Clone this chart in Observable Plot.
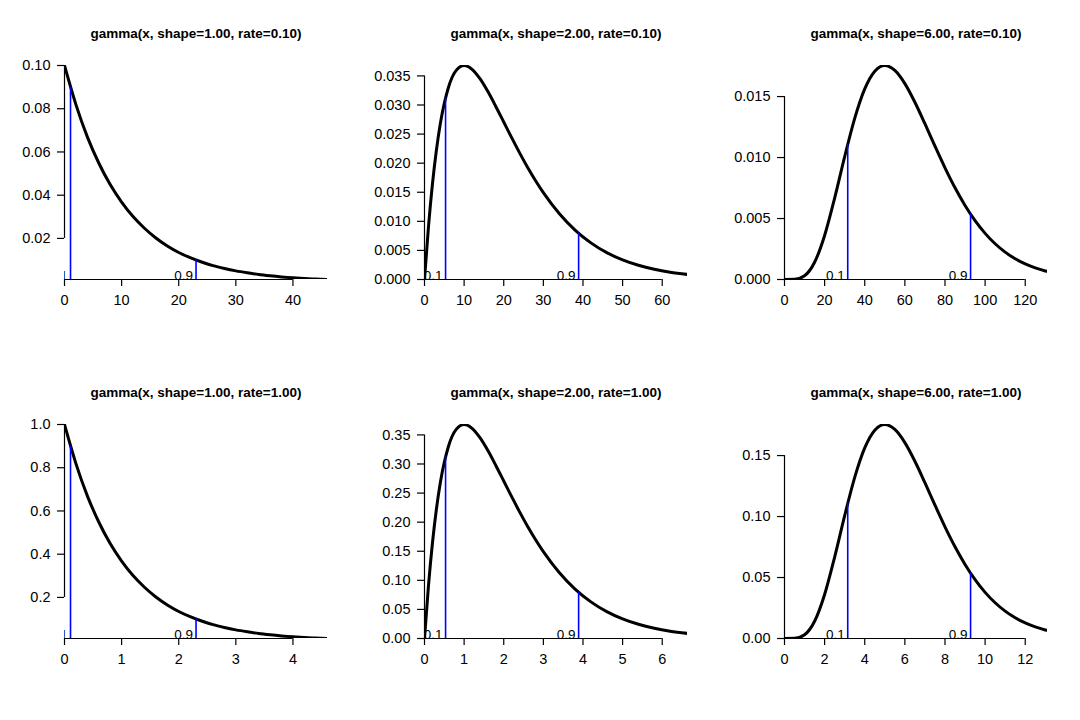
<!DOCTYPE html>
<html>
<head>
<meta charset="utf-8">
<script src="https://cdn.jsdelivr.net/npm/d3@7"></script>
<script src="https://cdn.jsdelivr.net/npm/@observablehq/plot@0.6"></script>
<style>
  body { margin: 0; background: #fff; }
  #grid { display: grid; grid-template-columns: 360px 360px 360px; grid-template-rows: 360px 360px; width: 1080px; height: 720px; }
  #grid svg { display: block; }
</style>
</head>
<body>
<div id="grid"></div>
<script>
// ---- Panel titles ----
const titles = [
  "gamma(x, shape=1.00, rate=0.10)",
  "gamma(x, shape=2.00, rate=0.10)",
  "gamma(x, shape=6.00, rate=0.10)",
  "gamma(x, shape=1.00, rate=1.00)",
  "gamma(x, shape=2.00, rate=1.00)",
  "gamma(x, shape=6.00, rate=1.00)"
];

// ---- Density curves ----
const xShape1Rate01 = [0,2,4,6,8,10,12,14,16,18,20,22,24,26,28,30,32,34,36,38,40,42,44,46.05];
const yShape1Rate01 = [0.1,0.0819,0.0670,0.0549,0.0449,0.0368,0.0301,0.0247,0.0202,0.0165,0.0135,0.0111,0.0091,0.0074,0.0061,0.0050,0.0041,0.0033,0.0027,0.0022,0.0018,0.0015,0.0012,0.0010];

const xShape2Rate01 = [0,1,2,3,4,6,8,10,12,14,16,18,20,22,24,26,28,30,34,38,42,46,50,54,58,62,66.38];
const yShape2Rate01 = [0,0.00905,0.01637,0.02222,0.02681,0.03293,0.03595,0.03679,0.03614,0.03452,0.03230,0.02975,0.02707,0.02438,0.02177,0.01931,0.01703,0.01494,0.01135,0.00850,0.00630,0.00462,0.00337,0.00244,0.00176,0.00126,0.00087];

const xShape6Rate01 = [0,5,10,15,20,25,30,35,40,45,50,55,60,65,70,75,80,85,90,95,100,105,110,115,120,125,130,131.1];
const yShape6Rate01 = [0,0.0000158,0.000307,0.001412,0.003609,0.006680,0.010082,0.013217,0.015629,0.017083,0.017547,0.017140,0.016062,0.014536,0.012772,0.010937,0.009160,0.007523,0.006073,0.004827,0.003783,0.002929,0.002242,0.001698,0.001274,0.000948,0.000699,0.000653];

const xShape1Rate1 = [0,0.2,0.4,0.6,0.8,1.0,1.2,1.4,1.6,1.8,2.0,2.2,2.4,2.6,2.8,3.0,3.2,3.4,3.6,3.8,4.0,4.2,4.4,4.605];
const yShape1Rate1 = [1.0,0.819,0.670,0.549,0.449,0.368,0.301,0.247,0.202,0.165,0.135,0.111,0.091,0.074,0.061,0.050,0.041,0.033,0.027,0.022,0.018,0.015,0.012,0.010];

const xShape2Rate1 = [0,0.1,0.2,0.3,0.4,0.6,0.8,1.0,1.2,1.4,1.6,1.8,2.0,2.2,2.4,2.6,2.8,3.0,3.4,3.8,4.2,4.6,5.0,5.4,5.8,6.2,6.638];
const yShape2Rate1 = [0,0.0905,0.1637,0.2222,0.2681,0.3293,0.3595,0.3679,0.3614,0.3452,0.3230,0.2975,0.2707,0.2438,0.2177,0.1931,0.1703,0.1494,0.1135,0.0850,0.0630,0.0462,0.0337,0.0244,0.0176,0.0126,0.0087];

const xShape6Rate1 = [0,0.5,1,1.5,2,2.5,3,3.5,4,4.5,5,5.5,6,6.5,7,7.5,8,8.5,9,9.5,10,10.5,11,11.5,12,12.5,13,13.11];
const yShape6Rate1 = [0,0.000158,0.00307,0.01412,0.03609,0.06680,0.10082,0.13217,0.15629,0.17083,0.17547,0.17140,0.16062,0.14536,0.12772,0.10937,0.09160,0.07523,0.06073,0.04827,0.03783,0.02929,0.02242,0.01698,0.01274,0.00948,0.00699,0.00653];

const seriesX = [xShape1Rate01, xShape2Rate01, xShape6Rate01, xShape1Rate1, xShape2Rate1, xShape6Rate1];
const seriesY = [yShape1Rate01, yShape2Rate01, yShape6Rate01, yShape1Rate1, yShape2Rate1, yShape6Rate1];

// ---- Quantile markers (0.1 and 0.9) ----
const quantileLabels = ["0.1", "0.9"];
const qLow = [1.054, 5.318, 31.52, 0.1054, 0.5318, 3.152];
const qLowDensity = [0.0900, 0.03125, 0.01109, 0.900, 0.3125, 0.1109];
const qHigh = [23.03, 38.90, 92.75, 2.303, 3.890, 9.275];
const qHighDensity = [0.0100, 0.00796, 0.00537, 0.100, 0.0796, 0.0537];

// ---- Ticks ----
const xTicks = [
  [0,10,20,30,40],
  [0,10,20,30,40,50,60],
  [0,20,40,60,80,100,120],
  [0,1,2,3,4],
  [0,1,2,3,4,5,6],
  [0,2,4,6,8,10,12]
];
const xTickLabels = [
  ["0","10","20","30","40"],
  ["0","10","20","30","40","50","60"],
  ["0","20","40","60","80","100","120"],
  ["0","1","2","3","4"],
  ["0","1","2","3","4","5","6"],
  ["0","2","4","6","8","10","12"]
];
const yTicks = [
  [0.02,0.04,0.06,0.08,0.10],
  [0,0.005,0.010,0.015,0.020,0.025,0.030,0.035],
  [0,0.005,0.010,0.015],
  [0.2,0.4,0.6,0.8,1.0],
  [0,0.05,0.10,0.15,0.20,0.25,0.30,0.35],
  [0,0.05,0.10,0.15]
];
const yTickLabels = [
  ["0.02","0.04","0.06","0.08","0.10"],
  ["0.000","0.005","0.010","0.015","0.020","0.025","0.030","0.035"],
  ["0.000","0.005","0.010","0.015"],
  ["0.2","0.4","0.6","0.8","1.0"],
  ["0.00","0.05","0.10","0.15","0.20","0.25","0.30","0.35"],
  ["0.00","0.05","0.10","0.15"]
];

const FONT = "'Liberation Sans', Arial, Helvetica, sans-serif";
const TICK_FONT = 14.5;

function panel(i) {
  const xs = seriesX[i], ys = seriesY[i];
  const curve = xs.map((x, k) => ({x, y: ys[k]}));
  const ymin = d3.min(ys), ymax = d3.max(ys), xmax = d3.max(xs);
  const quant = [
    {x: qLow[i], y: qLowDensity[i], label: quantileLabels[0]},
    {x: qHigh[i], y: qHighDensity[i], label: quantileLabels[1]}
  ];
  const xt = xTicks[i], yt = yTicks[i];
  const xl = new Map(xt.map((t, k) => [t, xTickLabels[i][k]]));
  const yl = new Map(yt.map((t, k) => [t, yTickLabels[i][k]]));
  const row = i < 3 ? 0 : 1;
  return Plot.plot({
    width: 360,
    height: 360,
    marginLeft: 64,
    marginRight: 33,
    marginTop: row ? 64 : 65,
    marginBottom: row ? 82 : 81,
    x: {domain: [0, xmax]},
    y: {domain: [ymin, ymax]},
    style: {fontFamily: FONT, fontSize: TICK_FONT + "px", color: "black", background: "white", overflow: "visible"},
    marks: [
      Plot.axisX({ticks: xt, tickSize: 7, tickPadding: 8, tickFormat: d => xl.get(d), label: null, stroke: "black", strokeWidth: 1.2, fontSize: TICK_FONT}),
      Plot.axisY({ticks: yt, tickSize: 7, tickPadding: 7, tickFormat: d => yl.get(d), label: null, stroke: "black", strokeWidth: 1.2, fontSize: TICK_FONT}),
      Plot.ruleY([ymin], {x1: () => xt[0], x2: () => xt[xt.length - 1], stroke: "black", strokeWidth: 1.2}),
      Plot.ruleX([0], {y1: () => yt[0], y2: () => yt[yt.length - 1], stroke: "black", strokeWidth: 1.2}),
      Plot.line(curve, {x: "x", y: "y", stroke: "black", strokeWidth: 3, curve: "monotone-x", clip: true}),
      Plot.ruleX(quant, {x: "x", y1: () => ymin, y2: "y", stroke: "#0000ff", strokeWidth: 1.6, clip: true}),
      Plot.text(quant, {x: "x", y: () => ymin, text: "label", textAnchor: "end", lineAnchor: "bottom", dx: -3, dy: 0, fill: "black", fontSize: 13.5, clip: true}),
      Plot.text([titles[i]], {frameAnchor: "top", dy: -37, text: d => d, fontWeight: "bold", fontSize: 13.5, fill: "black"})
    ]
  });
}

const grid = document.getElementById("grid");
for (let i = 0; i < 6; i++) grid.appendChild(panel(i));
</script>
</body>
</html>
